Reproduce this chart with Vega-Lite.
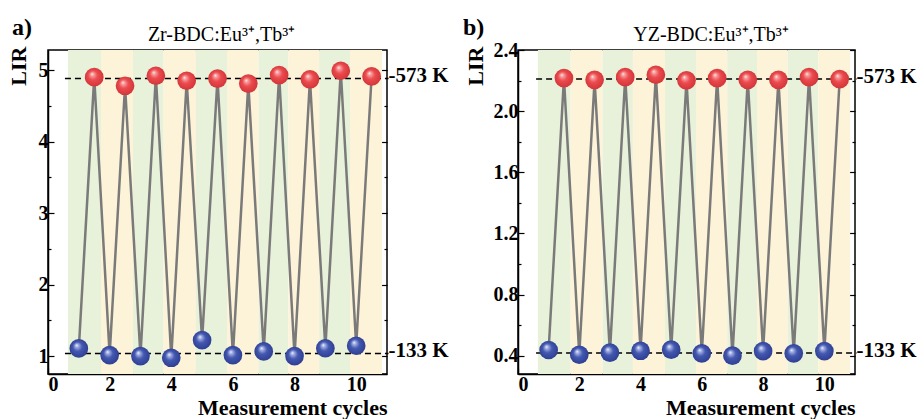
{
  "$schema": "https://vega.github.io/schema/vega-lite/v6.json",
  "padding": {"left": 6, "top": 15, "right": 5, "bottom": 0},
  "spacing": 12,
  "config": {
    "font": "Liberation Serif",
    "view": {"stroke": "black", "strokeWidth": 1.5},
    "axis": {
      "grid": false,
      "labelFont": "Liberation Serif",
      "labelFontWeight": "bold",
      "labelFontSize": 20,
      "labelColor": "black",
      "titleFont": "Liberation Serif",
      "titleFontWeight": "bold",
      "titleFontSize": 22,
      "titleColor": "black",
      "domainColor": "black",
      "domainWidth": 1.5,
      "tickColor": "black",
      "tickWidth": 1.2
    }
  },
  "datasets": {
    "bands": [
      {"start": 0.65, "end": 1.72, "k": "g"},
      {"start": 1.72, "end": 2.76, "k": "y"},
      {"start": 2.76, "end": 3.75, "k": "g"},
      {"start": 3.75, "end": 4.8, "k": "y"},
      {"start": 4.8, "end": 5.81, "k": "g"},
      {"start": 5.81, "end": 6.83, "k": "y"},
      {"start": 6.83, "end": 7.8, "k": "g"},
      {"start": 7.8, "end": 8.8, "k": "y"},
      {"start": 8.8, "end": 9.8, "k": "g"},
      {"start": 9.8, "end": 10.84, "k": "y"}
    ],
    "a": [
      {"x": 1, "v": 1.107, "s": "low"}, {"x": 1.5, "v": 4.90, "s": "high"},
      {"x": 2, "v": 1.014, "s": "low"}, {"x": 2.5, "v": 4.78, "s": "high"},
      {"x": 3, "v": 1.0, "s": "low"}, {"x": 3.5, "v": 4.92, "s": "high"},
      {"x": 4, "v": 0.977, "s": "low"}, {"x": 4.5, "v": 4.85, "s": "high"},
      {"x": 5, "v": 1.224, "s": "low"}, {"x": 5.5, "v": 4.88, "s": "high"},
      {"x": 6, "v": 1.014, "s": "low"}, {"x": 6.5, "v": 4.81, "s": "high"},
      {"x": 7, "v": 1.065, "s": "low"}, {"x": 7.5, "v": 4.93, "s": "high"},
      {"x": 8, "v": 1.0, "s": "low"}, {"x": 8.5, "v": 4.87, "s": "high"},
      {"x": 9, "v": 1.11, "s": "low"}, {"x": 9.5, "v": 4.99, "s": "high"},
      {"x": 10, "v": 1.145, "s": "low"}, {"x": 10.5, "v": 4.91, "s": "high"}
    ],
    "b": [
      {"x": 1, "v": 0.437, "s": "low"}, {"x": 1.5, "v": 2.216, "s": "high"},
      {"x": 2, "v": 0.406, "s": "low"}, {"x": 2.5, "v": 2.205, "s": "high"},
      {"x": 3, "v": 0.42, "s": "low"}, {"x": 3.5, "v": 2.223, "s": "high"},
      {"x": 4, "v": 0.432, "s": "low"}, {"x": 4.5, "v": 2.238, "s": "high"},
      {"x": 5, "v": 0.439, "s": "low"}, {"x": 5.5, "v": 2.201, "s": "high"},
      {"x": 6, "v": 0.415, "s": "low"}, {"x": 6.5, "v": 2.216, "s": "high"},
      {"x": 7, "v": 0.40, "s": "low"}, {"x": 7.5, "v": 2.205, "s": "high"},
      {"x": 8, "v": 0.43, "s": "low"}, {"x": 8.5, "v": 2.205, "s": "high"},
      {"x": 9, "v": 0.415, "s": "low"}, {"x": 9.5, "v": 2.223, "s": "high"},
      {"x": 10, "v": 0.43, "s": "low"}, {"x": 10.5, "v": 2.21, "s": "high"}
    ],
    "refA": [
      {"y": 4.883, "x1": 0.55, "x2": 11.05, "lab": "-573 K"},
      {"y": 1.037, "x1": 0.55, "x2": 11.05, "lab": "-133 K"}
    ],
    "refB": [
      {"y": 2.21, "x1": 0.59, "x2": 11.05, "lab": "-573 K"},
      {"y": 0.417, "x1": 0.59, "x2": 11.05, "lab": "-133 K"}
    ]
  },
  "hconcat": [
    {
      "width": 339,
      "height": 324,
      "resolve": {"axis": {"x": "independent", "y": "independent"}},
      "layer": [
        {
          "data": {"name": "bands"},
          "mark": {"type": "rect"},
          "encoding": {
            "x": {"field": "start", "type": "quantitative", "title": "Measurement cycles",
              "scale": {"domain": [0, 11], "nice": false},
              "axis": {"orient": "bottom", "values": [0,1,2,3,4,5,6,7,8,9,10],
                "labelExpr": "datum.value % 2 === 0 ? datum.label : ''",
                "tickSize": {"condition": {"test": "datum.value % 2 === 0", "value": -6}, "value": -3},
                "labelPadding": 6, "titlePadding": 3, "titleAnchor": "end"}},
            "x2": {"field": "end"},
            "color": {"field": "k", "type": "nominal", "legend": null,
              "scale": {"domain": ["g", "y"], "range": ["#e8f1d9", "#fdf3d8"]}}
          }
        },
        {
          "data": {"name": "refA"},
          "mark": {"type": "rule", "strokeDash": [6, 4], "strokeWidth": 1.5, "color": "black"},
          "encoding": {
            "x": {"field": "x1", "type": "quantitative", "axis": null},
            "x2": {"field": "x2"},
            "y": {"field": "y", "type": "quantitative", "scale": {"domain": [0.75, 5.28], "nice": false, "zero": false},
              "axis": {"orient": "right", "values": [1,1.5,2,2.5,3,3.5,4,4.5,5], "labels": false, "title": null, "domain": false,
                "tickSize": {"condition": {"test": "datum.value % 1 === 0", "value": -6}, "value": -3}}}
          }
        },
        {
          "data": {"name": "a"},
          "mark": {"type": "line", "color": "#7a7a7a", "strokeWidth": 2.5},
          "encoding": {
            "x": {"field": "x", "type": "quantitative",
              "axis": {"orient": "top", "values": [1,2,3,4,5,6,7,8,9,10], "labels": false, "title": null, "domain": false,
                "tickSize": {"condition": {"test": "datum.value % 2 === 0", "value": -6}, "value": -3}}},
            "y": {"field": "v", "type": "quantitative", "title": "LIR",
              "axis": {"orient": "left", "values": [1,1.5,2,2.5,3,3.5,4,4.5,5], "format": ".0f",
                "labelExpr": "datum.value % 1 === 0 ? datum.label : ''",
                "tickSize": {"condition": {"test": "datum.value % 1 === 0", "value": -6}, "value": -3},
                "labelPadding": 6, "titlePadding": 8, "titleAnchor": "end", "titleAlign": "right", "titleY": -4}}
          }
        },
        {
          "data": {"name": "a"},
          "transform": [{"filter": "datum.s === 'high'"}],
          "mark": {"type": "circle", "size": 350, "opacity": 1,
            "fill": {"gradient": "radial", "x1": 0.38, "y1": 0.32, "r1": 0, "x2": 0.5, "y2": 0.5, "r2": 0.55,
              "stops": [{"offset": 0, "color": "#ffffff"}, {"offset": 0.14, "color": "#f6a3a3"}, {"offset": 0.45, "color": "#ec4b4f"}, {"offset": 1, "color": "#cf3236"}]}},
          "encoding": {
            "x": {"field": "x", "type": "quantitative", "axis": null},
            "y": {"field": "v", "type": "quantitative", "axis": null}
          }
        },
        {
          "data": {"name": "a"},
          "transform": [{"filter": "datum.s === 'low'"}],
          "mark": {"type": "circle", "size": 350, "opacity": 1,
            "fill": {"gradient": "radial", "x1": 0.38, "y1": 0.32, "r1": 0, "x2": 0.5, "y2": 0.5, "r2": 0.55,
              "stops": [{"offset": 0, "color": "#ffffff"}, {"offset": 0.14, "color": "#a9b6e6"}, {"offset": 0.45, "color": "#4458b0"}, {"offset": 1, "color": "#2b3c90"}]}},
          "encoding": {
            "x": {"field": "x", "type": "quantitative", "axis": null},
            "y": {"field": "v", "type": "quantitative", "axis": null}
          }
        },
        {
          "data": {"name": "refA"},
          "mark": {"type": "text", "align": "left", "baseline": "middle", "dy": -2, "font": "Liberation Serif", "fontWeight": "bold", "fontSize": 21, "color": "black"},
          "encoding": {
            "x": {"field": "x2", "type": "quantitative", "axis": null},
            "y": {"field": "y", "type": "quantitative", "axis": null},
            "text": {"field": "lab"}
          }
        },
        {
          "data": {"values": [{"t": "a)"}]},
          "mark": {"type": "text", "align": "center", "baseline": "middle", "font": "Liberation Serif", "fontWeight": "bold", "fontSize": 24, "color": "black"},
          "encoding": {
            "x": {"datum": -0.84, "type": "quantitative", "axis": null},
            "y": {"datum": 5.59, "type": "quantitative", "axis": null},
            "text": {"field": "t"}
          }
        },
        {
          "data": {"values": [{"t": "Zr-BDC:Eu³⁺,Tb³⁺"}]},
          "mark": {"type": "text", "align": "center", "baseline": "middle", "font": "Liberation Serif", "fontSize": 20, "color": "black"},
          "encoding": {
            "x": {"datum": 5.63, "type": "quantitative", "axis": null},
            "y": {"datum": 5.49, "type": "quantitative", "axis": null},
            "text": {"field": "t"}
          }
        }
      ]
    },
    {
      "width": 337,
      "height": 324,
      "resolve": {"axis": {"x": "independent", "y": "independent"}},
      "layer": [
        {
          "data": {"name": "bands"},
          "mark": {"type": "rect"},
          "encoding": {
            "x": {"field": "start", "type": "quantitative", "title": "Measurement cycles",
              "scale": {"domain": [0, 11], "nice": false},
              "axis": {"orient": "bottom", "values": [0,1,2,3,4,5,6,7,8,9,10],
                "labelExpr": "datum.value % 2 === 0 ? datum.label : ''",
                "tickSize": {"condition": {"test": "datum.value % 2 === 0", "value": -6}, "value": -3},
                "labelPadding": 6, "titlePadding": 3, "titleAnchor": "end"}},
            "x2": {"field": "end"},
            "color": {"field": "k", "type": "nominal", "legend": null,
              "scale": {"domain": ["g", "y"], "range": ["#e8f1d9", "#fdf3d8"]}}
          }
        },
        {
          "data": {"name": "refB"},
          "mark": {"type": "rule", "strokeDash": [6, 4], "strokeWidth": 1.5, "color": "black"},
          "encoding": {
            "x": {"field": "x1", "type": "quantitative", "axis": null},
            "x2": {"field": "x2"},
            "y": {"field": "y", "type": "quantitative", "scale": {"domain": [0.28, 2.4], "nice": false, "zero": false},
              "axis": {"orient": "right", "values": [0.4,0.6,0.8,1.0,1.2,1.4,1.6,1.8,2.0,2.2,2.4], "labels": false, "title": null, "domain": false,
                "tickSize": {"condition": {"test": "round(datum.value*10) % 4 === 0", "value": -6}, "value": -3}}}
          }
        },
        {
          "data": {"name": "b"},
          "mark": {"type": "line", "color": "#7a7a7a", "strokeWidth": 2.5},
          "encoding": {
            "x": {"field": "x", "type": "quantitative",
              "axis": {"orient": "top", "values": [1,2,3,4,5,6,7,8,9,10], "labels": false, "title": null, "domain": false,
                "tickSize": {"condition": {"test": "datum.value % 2 === 0", "value": -6}, "value": -3}}},
            "y": {"field": "v", "type": "quantitative", "title": "LIR",
              "axis": {"orient": "left", "values": [0.4,0.6,0.8,1.0,1.2,1.4,1.6,1.8,2.0,2.2,2.4], "format": ".1f",
                "labelExpr": "round(datum.value*10) % 4 === 0 ? datum.label : ''",
                "tickSize": {"condition": {"test": "round(datum.value*10) % 4 === 0", "value": -6}, "value": -3},
                "labelPadding": 6, "titlePadding": 6, "titleAnchor": "end", "titleAlign": "right", "titleY": -4}}
          }
        },
        {
          "data": {"name": "b"},
          "transform": [{"filter": "datum.s === 'high'"}],
          "mark": {"type": "circle", "size": 350, "opacity": 1,
            "fill": {"gradient": "radial", "x1": 0.38, "y1": 0.32, "r1": 0, "x2": 0.5, "y2": 0.5, "r2": 0.55,
              "stops": [{"offset": 0, "color": "#ffffff"}, {"offset": 0.14, "color": "#f6a3a3"}, {"offset": 0.45, "color": "#ec4b4f"}, {"offset": 1, "color": "#cf3236"}]}},
          "encoding": {
            "x": {"field": "x", "type": "quantitative", "axis": null},
            "y": {"field": "v", "type": "quantitative", "axis": null}
          }
        },
        {
          "data": {"name": "b"},
          "transform": [{"filter": "datum.s === 'low'"}],
          "mark": {"type": "circle", "size": 350, "opacity": 1,
            "fill": {"gradient": "radial", "x1": 0.38, "y1": 0.32, "r1": 0, "x2": 0.5, "y2": 0.5, "r2": 0.55,
              "stops": [{"offset": 0, "color": "#ffffff"}, {"offset": 0.14, "color": "#a9b6e6"}, {"offset": 0.45, "color": "#4458b0"}, {"offset": 1, "color": "#2b3c90"}]}},
          "encoding": {
            "x": {"field": "x", "type": "quantitative", "axis": null},
            "y": {"field": "v", "type": "quantitative", "axis": null}
          }
        },
        {
          "data": {"name": "refB"},
          "mark": {"type": "text", "align": "left", "baseline": "middle", "dy": -2, "font": "Liberation Serif", "fontWeight": "bold", "fontSize": 21, "color": "black"},
          "encoding": {
            "x": {"field": "x2", "type": "quantitative", "axis": null},
            "y": {"field": "y", "type": "quantitative", "axis": null},
            "text": {"field": "lab"}
          }
        },
        {
          "data": {"values": [{"t": "b)"}]},
          "mark": {"type": "text", "align": "center", "baseline": "middle", "font": "Liberation Serif", "fontWeight": "bold", "fontSize": 24, "color": "black"},
          "encoding": {
            "x": {"datum": -1.45, "type": "quantitative", "axis": null},
            "y": {"datum": 2.544, "type": "quantitative", "axis": null},
            "text": {"field": "t"}
          }
        },
        {
          "data": {"values": [{"t": "YZ-BDC:Eu³⁺,Tb³⁺"}]},
          "mark": {"type": "text", "align": "center", "baseline": "middle", "font": "Liberation Serif", "fontSize": 20, "color": "black"},
          "encoding": {
            "x": {"datum": 6.3, "type": "quantitative", "axis": null},
            "y": {"datum": 2.498, "type": "quantitative", "axis": null},
            "text": {"field": "t"}
          }
        }
      ]
    }
  ]
}
